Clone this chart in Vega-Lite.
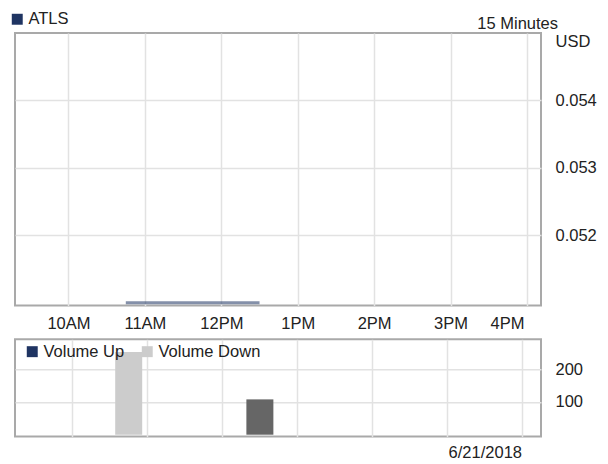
{
  "$schema": "https://vega.github.io/schema/vega-lite/v6.json",
  "background": "white",
  "padding": {"left": 8, "top": 10, "right": 5, "bottom": 5},
  "spacing": 33.3,
  "bounds": "flush",
  "resolve": {"scale": {"color": "independent"}, "legend": {"color": "independent"}},
  "config": {
    "font": "Liberation Sans",
    "view": {"stroke": "#a9a9a9", "strokeWidth": 2},
    "axis": {"domain": false, "ticks": false, "tickSize": 0, "grid": true, "gridColor": "#e2e2e2", "gridWidth": 1.5, "labelFontSize": 16.5, "labelColor": "#222", "labelFont": "Liberation Sans"},
    "legend": {"labelFontSize": 16.5, "labelColor": "#222", "labelFont": "Liberation Sans"},
    "title": {"font": "Liberation Sans", "fontSize": 16.5, "fontWeight": "normal", "color": "#222"}
  },
  "vconcat": [
    {
      "width": 526,
      "height": 272.4,
      "title": {"text": "15 Minutes", "orient": "top", "anchor": "end", "frame": "group", "dx": 17, "dy": 29, "baseline": "middle", "offset": 0},
      "data": {"values": [
        {"time": "2018-06-21T10:45:00Z", "price": 0.051, "symbol": "ATLS"},
        {"time": "2018-06-21T12:30:00Z", "price": 0.051, "symbol": "ATLS"}
      ]},
      "mark": {"type": "line", "strokeWidth": 3, "opacity": 0.55},
      "encoding": {
        "x": {
          "field": "time", "type": "temporal",
          "scale": {"type": "utc", "domain": [
            {"year": 2018, "month": 6, "date": 21, "hours": 9, "minutes": 18, "utc": true},
            {"year": 2018, "month": 6, "date": 21, "hours": 16, "minutes": 11, "utc": true}
          ]},
          "axis": {
            "title": null,
            "format": "%-I%p",
            "labelPadding": 10,
            "labelAlign": {"condition": {"test": "utchours(datum.value) == 16", "value": "right"}, "value": "center"},
            "labelOffset": {"condition": {"test": "utchours(datum.value) == 16", "value": -3}, "value": 0},
            "values": [
              {"year": 2018, "month": 6, "date": 21, "hours": 10, "utc": true},
              {"year": 2018, "month": 6, "date": 21, "hours": 11, "utc": true},
              {"year": 2018, "month": 6, "date": 21, "hours": 12, "utc": true},
              {"year": 2018, "month": 6, "date": 21, "hours": 13, "utc": true},
              {"year": 2018, "month": 6, "date": 21, "hours": 14, "utc": true},
              {"year": 2018, "month": 6, "date": 21, "hours": 15, "utc": true},
              {"year": 2018, "month": 6, "date": 21, "hours": 16, "utc": true}
            ]
          }
        },
        "y": {
          "field": "price", "type": "quantitative",
          "scale": {"domain": [0.05096, 0.055], "zero": false, "nice": false},
          "axis": {
            "orient": "right", "values": [0.052, 0.053, 0.054], "format": ".3f",
            "labelPadding": 14,
            "title": "USD", "titleAngle": 0, "titleAlign": "left", "titleBaseline": "middle",
            "titleX": 14, "titleY": 8, "titleFontSize": 16.5, "titleFontWeight": "normal", "titleColor": "#222"
          }
        },
        "color": {
          "field": "symbol", "type": "nominal",
          "scale": {"domain": ["ATLS"], "range": ["#1f3462"]},
          "legend": {
            "title": null, "orient": "none", "legendX": -6, "legendY": -22,
            "symbolType": "square", "symbolSize": 120, "symbolOpacity": 1,
            "symbolFillColor": "#1f3462", "symbolStrokeWidth": 0,
            "labelOffset": 3, "padding": 0
          }
        }
      }
    },
    {
      "width": 526,
      "height": 97.3,
      "title": {"text": "6/21/2018", "orient": "bottom", "anchor": "end", "frame": "group", "dx": -19, "offset": 16, "baseline": "middle"},
      "data": {"values": [
        {"time": "2018-06-21T10:45:00Z", "volume": 253, "direction": "Volume Down"},
        {"time": "2018-06-21T12:30:00Z", "volume": 108, "direction": "Unchanged"}
      ]},
      "mark": {"type": "bar", "size": 27},
      "encoding": {
        "x": {
          "field": "time", "type": "temporal",
          "scale": {"type": "utc", "domain": [
            {"year": 2018, "month": 6, "date": 21, "hours": 9, "minutes": 18, "utc": true},
            {"year": 2018, "month": 6, "date": 21, "hours": 16, "minutes": 11, "utc": true}
          ]},
          "axis": {
            "title": null, "labels": false,
            "values": [
              {"year": 2018, "month": 6, "date": 21, "hours": 10, "utc": true},
              {"year": 2018, "month": 6, "date": 21, "hours": 11, "utc": true},
              {"year": 2018, "month": 6, "date": 21, "hours": 12, "utc": true},
              {"year": 2018, "month": 6, "date": 21, "hours": 13, "utc": true},
              {"year": 2018, "month": 6, "date": 21, "hours": 14, "utc": true},
              {"year": 2018, "month": 6, "date": 21, "hours": 15, "utc": true},
              {"year": 2018, "month": 6, "date": 21, "hours": 16, "utc": true}
            ]
          }
        },
        "y": {
          "field": "volume", "type": "quantitative",
          "scale": {"domain": [-5.8, 291.7], "zero": false, "nice": false},
          "axis": {"orient": "right", "values": [100, 200], "title": null, "labelPadding": 14}
        },
        "y2": {"datum": 0},
        "color": {
          "field": "direction", "type": "nominal",
          "scale": {"domain": ["Volume Up", "Volume Down", "Unchanged"], "range": ["#1f3462", "#cccccc", "#666666"]},
          "legend": {
            "values": ["Volume Up", "Volume Down"],
            "title": null, "orient": "none", "legendX": 9, "legendY": 4,
            "direction": "horizontal", "symbolType": "square", "symbolSize": 120,
            "symbolStrokeWidth": 0, "labelOffset": 3, "columnPadding": 14, "padding": 0
          }
        }
      }
    }
  ]
}
